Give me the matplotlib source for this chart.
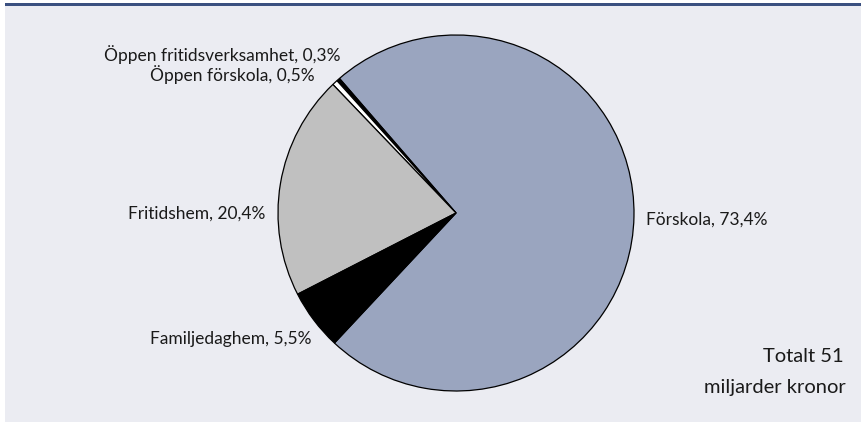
import matplotlib
matplotlib.use("Agg")
import matplotlib.pyplot as plt
from matplotlib.patches import Rectangle

categories = ["Förskola", "Öppen fritidsverksamhet", "Öppen förskola", "Fritidshem", "Familjedaghem"]
shares = [73.4, 0.3, 0.5, 20.4, 5.5]
label_texts = ["Förskola, 73,4%", "Öppen fritidsverksamhet, 0,3%", "Öppen förskola, 0,5%",
               "Fritidshem, 20,4%", "Familjedaghem, 5,5%"]
colors = ["#9aa5bf", "#000000", "#ffffff", "#c0c0c0", "#000000"]
total_lines = ["Totalt 51", "miljarder kronor"]

plt.rcParams['font.family'] = ['Lato', 'DejaVu Sans']

W, H = 861, 422
fig = plt.figure(figsize=(W / 100, H / 100), dpi=100)
fig.patch.set_facecolor("white")

# background panel and top rule
fig.add_artist(Rectangle((5 / W, 0), 1 - 5 / W, 1 - 6 / H, transform=fig.transFigure,
                         facecolor="#ebecf2", edgecolor="none", zorder=0))
fig.add_artist(Rectangle((5 / W, 1 - 6 / H), 1 - 5 / W, 3 / H, transform=fig.transFigure,
                         facecolor="#3a5080", edgecolor="none", zorder=0))

# pie axes: center (456, 213), radius 178 px
cx, cy, r = 456, 213, 178
ax = fig.add_axes([(cx - r) / W, 1 - (cy + r) / H, 2 * r / W, 2 * r / H])
ax.set_facecolor("none")
tot = sum(shares)
start = 130.9 - shares[0] / tot * 360
ax.pie(shares, colors=colors, startangle=start, counterclock=True,
       wedgeprops=dict(edgecolor="black", linewidth=0.9))
ax.set_aspect("equal")
ax.set_xlim(-1, 1)
ax.set_ylim(-1, 1)
ax.axis("off")

fs = 12.5
def ftext(x, y, s, ha, size=fs):
    fig.text(x / W, 1 - y / H, s, ha=ha, va="center", fontsize=size, color="#1a1a1a")

ftext(646, 220, label_texts[0], "left")
ftext(340, 55, label_texts[1], "right")
ftext(315, 75, label_texts[2], "right")
ftext(265, 214, label_texts[3], "right")
ftext(312, 339, label_texts[4], "right")
ftext(844, 357, total_lines[0], "right", 14.5)
ftext(846, 388, total_lines[1], "right", 14.5)

fig.savefig("out.png", dpi=100, facecolor=fig.get_facecolor())
